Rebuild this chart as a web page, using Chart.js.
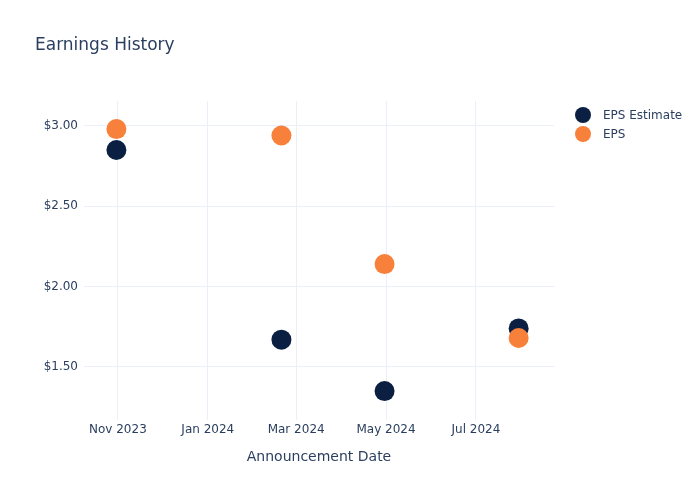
<!DOCTYPE html>
<html lang="en">
<head>
  <meta charset="UTF-8">
  <title>Earnings History</title>
  <script src="https://cdn.jsdelivr.net/npm/chart.js"></script>
  <style>
    body { margin: 0; background: #fff; }
  </style>
</head>
<body>
  <canvas id="grafico" width="700" height="500"></canvas>

<script>
  // dados
  const datas = ['2023-10-31', '2024-02-20', '2024-04-30', '2024-07-30'];
  const epsEstimate = [2.85, 1.67, 1.35, 1.74];
  const eps = [2.98, 2.94, 2.14, 1.68];

  const xTickDates = ['2023-11-01', '2024-01-01', '2024-03-01', '2024-05-01', '2024-07-01'];
  const xTickLabels = ['Nov 2023', 'Jan 2024', 'Mar 2024', 'May 2024', 'Jul 2024'];
  const yTicks = [1.5, 2.0, 2.5, 3.0];

  const xMin = '2023-10-09';
  const xMax = '2024-08-23';
  const yMin = 1.17;
  const yMax = 3.155;

  const corAzul = '#0b1f42';
  const corLaranja = '#f7803a';
  const corTexto = '#2a3f5f';
  const corGrade = '#ebf0f8';
  const fonte = 'DejaVu Sans';

  const ts = d => Date.parse(d + 'T00:00:00Z');

  const pontos = (valores) => datas.map((d, i) => ({ x: ts(d), y: valores[i] }));

  // titulo e legenda desenhados a mao (estilo plotly)
  const extras = {
    id: 'extras',
    afterDraw(chart) {
      const c = chart.ctx;
      c.save();
      c.fillStyle = corTexto;
      c.font = '17px "' + fonte + '"';
      c.textBaseline = 'alphabetic';
      c.textAlign = 'left';
      c.fillText('Earnings History', 35, 50);

      const itens = [
        { label: 'EPS Estimate', cor: corAzul, y: 115 },
        { label: 'EPS', cor: corLaranja, y: 134 }
      ];
      c.font = '12px "' + fonte + '"';
      c.textBaseline = 'middle';
      itens.forEach(it => {
        c.fillStyle = it.cor;
        c.beginPath();
        c.arc(583, it.y, 8, 0, Math.PI * 2);
        c.fill();
        c.fillStyle = corTexto;
        c.fillText(it.label, 603, it.y + 1);
      });
      c.restore();
    }
  };

  const ctx = document.getElementById('grafico');

  new Chart(ctx, {
    type: 'scatter',
    data: {
      datasets: [
        {
          label: 'EPS Estimate',
          data: pontos(epsEstimate),
          backgroundColor: corAzul,
          borderWidth: 0,
          pointRadius: 10,
          pointHoverRadius: 10,
          order: 1
        },
        {
          label: 'EPS',
          data: pontos(eps),
          backgroundColor: corLaranja,
          borderWidth: 0,
          pointRadius: 10,
          pointHoverRadius: 10,
          order: 0
        }
      ]
    },
    options: {
      responsive: false,
      animation: false,
      devicePixelRatio: 1,
      layout: { padding: { top: 101, right: 146, left: 0, bottom: 0 } },
      plugins: {
        legend: { display: false },
        tooltip: { enabled: false }
      },
      scales: {
        x: {
          type: 'linear',
          min: ts(xMin),
          max: ts(xMax),
          afterBuildTicks: (s) => { s.ticks = xTickDates.map(d => ({ value: ts(d) })); },
          afterFit: (s) => { s.height = 80; },
          grid: { color: corGrade, drawTicks: false },
          border: { display: false },
          ticks: {
            color: corTexto,
            font: { family: fonte, size: 12 },
            padding: 3,
            maxRotation: 0,
            callback: (v) => xTickLabels[xTickDates.map(ts).indexOf(v)]
          },
          title: {
            display: true,
            text: 'Announcement Date',
            color: corTexto,
            font: { family: fonte, size: 14 },
            padding: { top: 0, bottom: 34 }
          }
        },
        y: {
          min: yMin,
          max: yMax,
          afterBuildTicks: (s) => { s.ticks = yTicks.map(v => ({ value: v })); },
          afterFit: (s) => { s.width = 84; },
          grid: { color: corGrade, drawTicks: false },
          border: { display: false },
          ticks: {
            color: corTexto,
            font: { family: fonte, size: 12 },
            padding: 6,
            callback: (v) => '$' + v.toFixed(2)
          }
        }
      }
    },
    plugins: [extras]
  });
</script>
</body>
</html>
